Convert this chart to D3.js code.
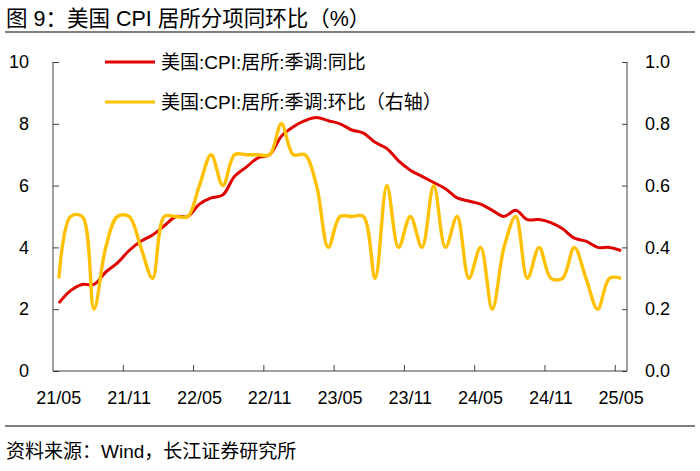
<!DOCTYPE html>
<html>
<head>
<meta charset="utf-8">
<script src="https://cdn.jsdelivr.net/npm/d3@7"></script>
<style>
  body { margin: 0; background: #fff; }
  svg text { font-family: "Liberation Sans", Arial, "Noto Sans CJK SC", sans-serif; }
  .cjk { font-family: "Liberation Sans", "Noto Sans CJK SC", sans-serif; }
</style>
</head>
<body>
<svg id="chart" width="700" height="471"></svg>
<script>
// months 21/05 .. 25/05
var months = [];
for (var yy = 21, mm = 5; !(yy === 25 && mm > 5); ) {
  months.push(yy + "/" + (mm < 10 ? "0" + mm : mm));
  mm++; if (mm > 12) { mm = 1; yy++; }
}

// 同比 (left axis, %)
var yoy = [2.2, 2.6, 2.8, 2.8, 3.2, 3.5, 3.9, 4.2, 4.4, 4.7, 5.0, 5.0,
           5.4, 5.6, 5.7, 6.3, 6.6, 6.9, 7.0, 7.6, 7.9, 8.1, 8.2, 8.1,
           8.0, 7.8, 7.7, 7.4, 7.2, 6.8, 6.5, 6.3, 6.1, 5.9, 5.6, 5.5,
           5.4, 5.2, 5.0, 5.2, 4.9, 4.9, 4.8, 4.6, 4.3, 4.2, 4.0, 4.0, 3.9];

// 环比 (right axis, %)
var mom = [0.3, 0.5, 0.5, 0.2, 0.4, 0.5, 0.5, 0.4, 0.3, 0.5, 0.5, 0.5,
           0.6, 0.7, 0.6, 0.7, 0.7, 0.7, 0.7, 0.8, 0.7, 0.7, 0.6, 0.4,
           0.5, 0.5, 0.5, 0.3, 0.6, 0.4, 0.5, 0.4, 0.6, 0.4, 0.5, 0.3,
           0.4, 0.2, 0.4, 0.5, 0.3, 0.4, 0.3, 0.3, 0.4, 0.3, 0.2, 0.3, 0.3];

var leftTicks = [0, 2, 4, 6, 8, 10];
var rightTicks = [0, 0.2, 0.4, 0.6, 0.8, 1.0];
var legendNames = ["美国:CPI:居所:季调:同比", "美国:CPI:居所:季调:环比（右轴）"];

var svg = d3.select("#chart");
var pL = 53, pR = 627, pT = 62, pB = 371;
var numSize = 18;

var x = d3.scaleBand().domain(months).range([pL, pR]);
var yL = d3.scaleLinear().domain([0, 10]).range([pB, pT]);
var yR = d3.scaleLinear().domain([0, 1]).range([pB, pT]);

// title + rules
svg.append("text").attr("class", "cjk").attr("x", 6).attr("y", 25.5)
  .attr("font-size", 21.5).attr("fill", "#000").text("图 9：美国 CPI 居所分项同环比（%）");
svg.append("line").attr("x1", 5).attr("x2", 695).attr("y1", 32).attr("y2", 32)
  .attr("stroke", "#000").attr("stroke-width", 1.2);
svg.append("line").attr("x1", 5).attr("x2", 695).attr("y1", 426).attr("y2", 426)
  .attr("stroke", "#000").attr("stroke-width", 1.2);
svg.append("text").attr("class", "cjk").attr("x", 6).attr("y", 458)
  .attr("font-size", 19).attr("fill", "#000").text("资料来源：Wind，长江证券研究所");

// left axis
var gL = svg.append("g").attr("transform", "translate(" + pL + ",0)")
  .call(d3.axisRight(yL).tickValues(leftTicks).tickSize(6).tickFormat(d3.format("d")));
gL.selectAll("text").attr("x", -24).attr("text-anchor", "end");

// right axis
var gR = svg.append("g").attr("transform", "translate(" + pR + ",0)")
  .call(d3.axisLeft(yR).tickValues(rightTicks).tickSize(5).tickFormat(d3.format(".1f")));
gR.selectAll("text").attr("x", 18).attr("text-anchor", "start");

// bottom axis: ticks between categories every 6 months
var gX = svg.append("g").attr("transform", "translate(0," + pB + ")");
gX.append("line").attr("x1", pL).attr("x2", pR).attr("stroke", "#404040");
var lab = months.filter(function(d, i) { return i % 6 === 0; });
gX.selectAll(".tk").data(lab.slice(1)).enter().append("line")
  .attr("x1", function(d) { return x(d); }).attr("x2", function(d) { return x(d); })
  .attr("y1", 0).attr("y2", -6).attr("stroke", "#404040");
gX.selectAll(".lb").data(lab).enter().append("text")
  .attr("x", function(d) { return x(d) + x.bandwidth() / 2; })
  .attr("y", 33).attr("text-anchor", "middle").attr("font-size", numSize).attr("fill", "#000")
  .text(function(d) { return d; });

[gL, gR].forEach(function(g) {
  g.selectAll("path").attr("stroke", "#404040");
  g.selectAll("line").attr("stroke", "#404040");
  g.selectAll("text").attr("font-size", numSize).attr("fill", "#000");
});
gL.select(".domain").attr("d", "M0," + pB + "V" + pT);
gR.select(".domain").attr("d", "M0," + pB + "V" + pT);

var cx = function(d, i) { return x(months[i]) + x.bandwidth() / 2; };
var smooth = d3.curveCatmullRom.alpha(0.5);

svg.append("path").datum(yoy)
  .attr("d", d3.line().x(cx).y(function(d) { return yL(d); }).curve(smooth))
  .attr("fill", "none").attr("stroke", "#e00000").attr("stroke-width", 3);

svg.append("path").datum(mom)
  .attr("d", d3.line().x(cx).y(function(d) { return yR(d); }).curve(smooth))
  .attr("fill", "none").attr("stroke", "#ffc000").attr("stroke-width", 3.4);

// legend
var legColors = ["#e00000", "#ffc000"];
var leg = svg.selectAll(".leg").data(legendNames).enter().append("g")
  .attr("transform", function(d, i) { return "translate(105," + (62 + i * 40) + ")"; });
leg.append("line").attr("x1", 0).attr("x2", 50)
  .attr("stroke", function(d, i) { return legColors[i]; }).attr("stroke-width", 3);
leg.append("text").attr("class", "cjk").attr("x", 56).attr("y", 7)
  .attr("font-size", 19).attr("fill", "#000").text(function(d) { return d; });
</script>
</body>
</html>
